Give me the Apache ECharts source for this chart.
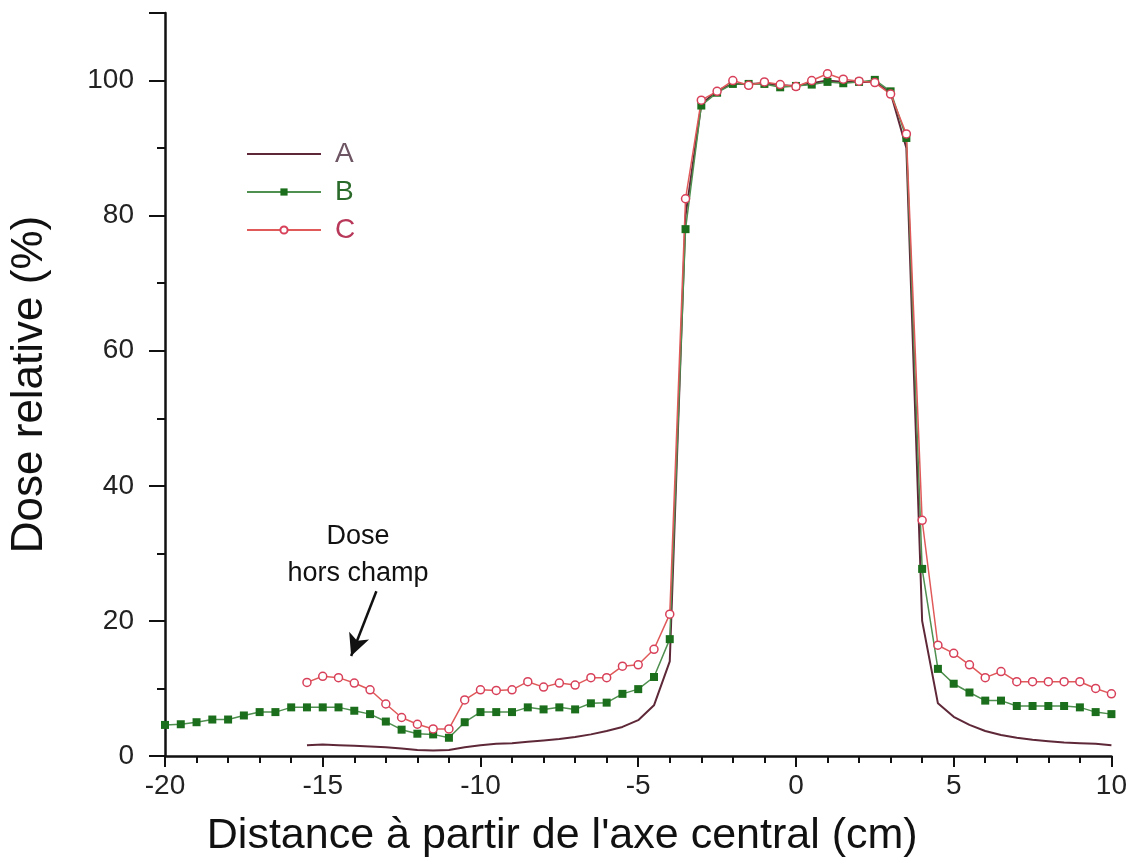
<!DOCTYPE html>
<html>
<head>
<meta charset="utf-8">
<script src="https://cdn.jsdelivr.net/npm/echarts@6/dist/echarts.min.js"></script>
<style>html,body{margin:0;padding:0;background:#fff}#c{width:1130px;height:863px}</style>
</head>
<body>
<div id="c"></div>
<script>
// ---- data ----
const xA = [-15.5,-15,-14.5,-14,-13.5,-13,-12.5,-12,-11.5,-11,-10.5,-10,-9.5,-9,-8.5,-8,-7.5,-7,-6.5,-6,-5.5,-5,-4.5,-4,-3.5,-3,-2.5,-2,-1.5,-1,-0.5,0,0.5,1,1.5,2,2.5,3,3.5,4,4.5,5,5.5,6,6.5,7,7.5,8,8.5,9,9.5,10];
const yA = [1.6,1.7,1.6,1.5,1.4,1.3,1.1,0.9,0.8,0.9,1.3,1.6,1.8,1.9,2.1,2.3,2.5,2.8,3.2,3.7,4.3,5.3,7.5,14,80,96.5,98.5,99.5,99.5,99.6,99.3,99.2,99.6,100,99.8,99.8,99.8,98.2,90,20,7.8,5.8,4.6,3.7,3.1,2.7,2.4,2.2,2.0,1.9,1.8,1.6];
const xB = [-20,-19.5,-19,-18.5,-18,-17.5,-17,-16.5,-16,-15.5,-15,-14.5,-14,-13.5,-13,-12.5,-12,-11.5,-11,-10.5,-10,-9.5,-9,-8.5,-8,-7.5,-7,-6.5,-6,-5.5,-5,-4.5,-4,-3.5,-3,-2.5,-2,-1.5,-1,-0.5,0,0.5,1,1.5,2,2.5,3,3.5,4,4.5,5,5.5,6,6.5,7,7.5,8,8.5,9,9.5,10];
const yB = [4.6,4.7,5.0,5.4,5.4,6.0,6.5,6.5,7.2,7.2,7.2,7.2,6.7,6.2,5.1,3.9,3.3,3.2,2.7,5.0,6.5,6.5,6.5,7.2,6.9,7.2,6.9,7.8,7.9,9.2,9.9,11.7,17.3,78,96.3,98.2,99.5,99.5,99.5,99.0,99.2,99.4,99.8,99.6,99.8,100.1,98.4,91.5,27.7,12.9,10.7,9.4,8.2,8.2,7.4,7.4,7.4,7.4,7.2,6.5,6.2];
const xC = [-15.5,-15,-14.5,-14,-13.5,-13,-12.5,-12,-11.5,-11,-10.5,-10,-9.5,-9,-8.5,-8,-7.5,-7,-6.5,-6,-5.5,-5,-4.5,-4,-3.5,-3,-2.5,-2,-1.5,-1,-0.5,0,0.5,1,1.5,2,2.5,3,3.5,4,4.5,5,5.5,6,6.5,7,7.5,8,8.5,9,9.5,10];
const yC = [10.9,11.8,11.6,10.8,9.8,7.7,5.7,4.7,4.0,4.0,8.3,9.8,9.7,9.8,11.0,10.2,10.8,10.5,11.6,11.6,13.3,13.5,15.8,21,82.5,97.1,98.4,100.0,99.3,99.8,99.4,99.1,100.0,101.0,100.2,99.9,99.7,98.0,92.1,34.9,16.4,15.2,13.5,11.6,12.5,11.0,11.0,11.0,11.0,11.0,10.0,9.2];
const seriesNames = ['A','B','C'];
const xTicks = [-20,-15,-10,-5,0,5,10];
const yTicks = [0,20,40,60,80,100];
const annotationText = 'Dose\nhors champ';
const arrowFrom = [-13.3, 24.4];
const arrowTo = [-14.1, 14.8];
const annotationAt = [-13.88, 29.7];

const pairs = (xs, ys) => xs.map((x, i) => [x, ys[i]]);
const FONT = "'Liberation Sans', Arial, sans-serif";

const chart = echarts.init(document.getElementById('c'), null, {renderer: 'canvas'});
chart.setOption({
  animation: false,
  backgroundColor: '#fff',
  textStyle: {fontFamily: FONT},
  grid: {left: 163, right: 18, top: 13, bottom: 106, containLabel: false},
  legend: {
    orient: 'vertical', left: 246, top: 140, padding: 0,
    itemWidth: 74, itemHeight: 9, itemGap: 10,
    textStyle: {fontSize: 28, fontFamily: FONT, lineHeight: 28, padding: [0,0,0,9]},
    data: [
      {name: 'A', textStyle: {color: '#6d5563'}, itemStyle: {color: 'rgba(0,0,0,0)', borderWidth: 0}},
      {name: 'B', textStyle: {color: '#2a6a2a'}},
      {name: 'C', textStyle: {color: '#b8385a'}}
    ]
  },
  xAxis: {
    type: 'value', min: -20, max: 10, interval: 5,
    name: "Distance à partir de l'axe central (cm)", nameLocation: 'middle', nameGap: 59,
    nameTextStyle: {fontSize: 43, color: '#111', fontFamily: FONT, padding: [0, 152, 0, 0]},
    axisLine: {show: true, onZero: false, lineStyle: {color: '#111', width: 2.5}},
    axisTick: {show: true, length: 11, lineStyle: {color: '#111', width: 2}},
    minorTick: {show: true, splitNumber: 5, length: 7, lineStyle: {color: '#111', width: 2}},
    axisLabel: {fontSize: 28, color: '#222', margin: 16, fontFamily: FONT,
      formatter: v => xTicks.includes(v) ? String(v) : ''},
    splitLine: {show: false}, minorSplitLine: {show: false}
  },
  yAxis: {
    type: 'value', min: 0, max: 110, interval: 20, position: 'left',
    name: 'Dose relative (%)', nameLocation: 'middle', nameGap: 113, nameRotate: 90,
    nameTextStyle: {fontSize: 44, color: '#111', fontFamily: FONT},
    axisLine: {show: true, onZero: false, lineStyle: {color: '#111', width: 2.5}},
    axisTick: {show: true, length: 16, lineStyle: {color: '#111', width: 2}},
    minorTick: {show: true, splitNumber: 2, length: 8, lineStyle: {color: '#111', width: 2}},
    axisLabel: {fontSize: 28, color: '#222', margin: 31, fontFamily: FONT, showMaxLabel: false,
      formatter: v => yTicks.includes(v) ? String(v) : ''},
    splitLine: {show: false}, minorSplitLine: {show: false}
  },
  series: [
    {
      name: seriesNames[0], type: 'line', data: pairs(xA, yA),
      symbol: 'none', smooth: false,
      lineStyle: {color: '#5e2838', width: 2}, itemStyle: {color: '#5e2838'},
      markLine: {
        silent: true, animation: false, symbol: ['none', 'arrow'], symbolSize: [16, 22],
        label: {show: false},
        lineStyle: {color: '#111', width: 2.5, type: 'solid'},
        data: [[{coord: arrowFrom}, {coord: arrowTo}]]
      },
      markPoint: {
        silent: true, animation: false, symbol: 'rect', symbolSize: 1,
        itemStyle: {color: 'rgba(0,0,0,0)'},
        label: {show: true, position: 'inside', formatter: annotationText, fontSize: 27,
          lineHeight: 37, color: '#111', fontFamily: FONT, align: 'center'},
        data: [{coord: annotationAt}]
      }
    },
    {
      name: seriesNames[1], type: 'line', data: pairs(xB, yB),
      symbol: 'rect', symbolSize: 8, showAllSymbol: true,
      lineStyle: {color: '#4f8f4f', width: 1.5}, itemStyle: {color: '#1b6e1b', borderWidth: 0}
    },
    {
      name: seriesNames[2], type: 'line', data: pairs(xC, yC),
      symbol: 'circle', symbolSize: 8, showAllSymbol: true,
      lineStyle: {color: '#e05a5a', width: 1.5},
      itemStyle: {color: '#fff', borderColor: '#d8405a', borderWidth: 1.5}
    }
  ]
});
</script>
</body>
</html>
